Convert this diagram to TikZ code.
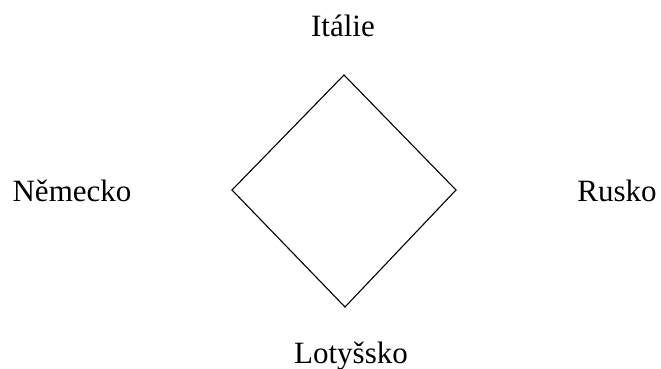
\documentclass[tikz,border=0pt]{standalone}
\usepackage{fontspec}
\setmainfont{Liberation Serif}
\usepackage{tikz}
\usetikzlibrary{positioning}
\tikzset{
country/.style={anchor=base,inner sep=0pt,font=\fontsize{31}{36}\selectfont}
}

\begin{document}
\begin{tikzpicture}[x=1pt,y=1pt,yscale=-1,xscale=1]
\useasboundingbox (0,0) rectangle (661,369);
%Corners of the diamond
\coordinate (top) at (344,75);
\coordinate (right) at (456,190);
\coordinate (bottom) at (345,307);
\coordinate (left) at (232,190);
%Shape: Diamond
\draw [line width=1.1] (top) -- (right) -- (bottom) -- (left) -- cycle ;

% Text Node
\node [country] (italie) at (343,37) {Itálie};
% Text Node
\node [country] (nemecko) at (72,201) {Německo};
% Text Node
\node [country] (rusko) at (617,201) {Rusko};
% Text Node
\node [country] (lotyssko) at (351,363) {Lotyšsko};
\end{tikzpicture}
\end{document}
